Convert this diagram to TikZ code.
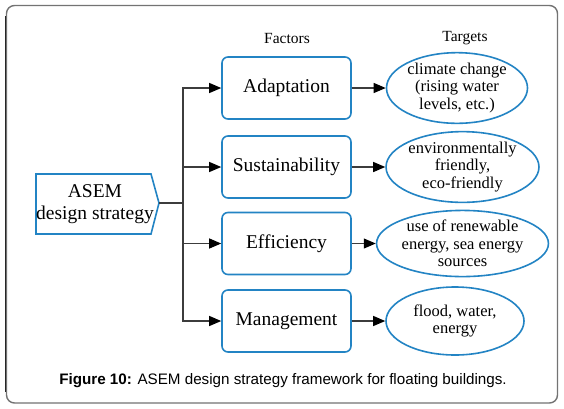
\documentclass[tikz,border=0pt]{standalone}
\usepackage{fontspec}
\setmainfont{Liberation Serif}
\newfontfamily\capfont{Liberation Sans}
\usetikzlibrary{arrows.meta,shapes.geometric}
\definecolor{boxblue}{RGB}{35,132,196}
\definecolor{linegray}{RGB}{60,60,60}
\tikzset{
  factorbox/.style={draw=boxblue, line width=1.6pt, rounded corners=6pt, minimum width=129pt, minimum height=62pt, inner sep=0pt, font=\fontsize{19.5}{22}\selectfont},
  targetell/.style={ellipse, draw=boxblue, line width=1.6pt, inner sep=0pt, align=center, font=\fontsize{16.5}{17.5}\selectfont},
  arr/.style={draw=linegray, line width=1.1pt, -{Triangle[length=12pt,width=10pt,fill=black,color=black]}},
  plain/.style={draw=linegray, line width=1.1pt},
  head/.style={font=\fontsize{15.5}{18}\selectfont}
}
\begin{document}
\begin{tikzpicture}[x=1pt,y=-1pt]
\useasboundingbox (0,0) rectangle (564,408);
\fill[white] (0,0) rectangle (564,408);
% frame
\draw[black!55, line width=1.4pt, rounded corners=8pt] (6.5,5.5) rectangle (557.5,403);
\draw[black!85, line width=1.2pt] (5.5,16) -- (5.5,392);
% headers
\node[head] (fac) at (287,38) {Factors};
\node[head] (tar) at (465,38) {Targets};
% ASEM shape
\draw[boxblue, line width=1.6pt] (36,174) -- (151,174) -- (159,203) -- (151,234) -- (36,234) -- cycle;
\coordinate (asemtip) at (159,203);
\node[align=center, font=\fontsize{19.5}{21.5}\selectfont, inner sep=0pt] (asem) at (95,204) {ASEM\\design strategy};
\coordinate (trunk) at (183,203);
% factor boxes
\node[factorbox] (adapt) at (286.5,88) {Adaptation};
\node[factorbox] (sust) at (286.5,167) {Sustainability};
\node[factorbox] (eff) at (286.5,243.5) {Efficiency};
\node[factorbox] (man) at (286.5,321) {Management};
% target ellipses
\node[targetell, minimum width=141pt, minimum height=67pt] (e1) at (457,88) {climate change\\(rising water\\levels, etc.)};
\node[targetell, minimum width=141pt, minimum height=66pt] (e2) at (462.5,167) {environmentally\\friendly,\\eco-friendly};
\node[targetell, minimum width=141pt, minimum height=64pt] (e3) at (462.5,243.5) {use of renewable\\energy, sea energy\\sources};
\node[targetell, minimum width=138pt, minimum height=68pt] (e4) at (455,321) {flood, water,\\energy};
% connectors
\draw[plain] (asemtip) -- (trunk);
\draw[arr] (trunk) |- (adapt.west);
\draw[arr] (trunk) |- (sust.west);
\draw[arr] (trunk) |- (eff.west);
\draw[arr] (trunk) |- (man.west);
\draw[arr] (adapt) -- (e1);
\draw[arr] (sust) -- (e2);
\draw[arr] (eff) -- (e3);
\draw[arr] (man) -- (e4);
% caption
\node[font=\capfont\fontsize{15.2}{18}\selectfont] (cap) at (283,381) {\textbf{Figure 10:} ASEM design strategy framework for floating buildings.};
\end{tikzpicture}
\end{document}
